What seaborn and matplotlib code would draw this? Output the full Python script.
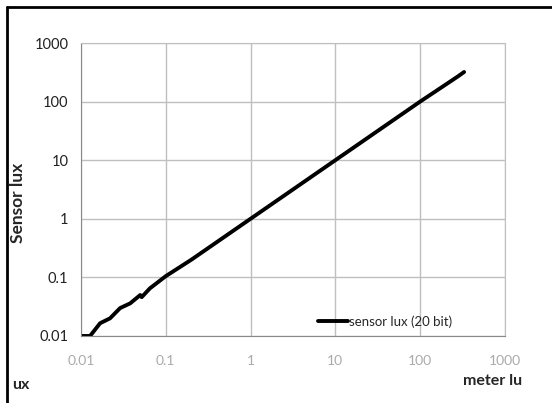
import matplotlib
matplotlib.use('Agg')
import matplotlib.pyplot as plt
import seaborn as sns
import pandas as pd
from matplotlib.lines import Line2D

# meter lux (reference) vs sensor lux readings
meter_lux = [0.01, 0.0128, 0.0168, 0.022, 0.029, 0.038, 0.05, 0.052, 0.065,
             0.1, 0.2, 0.5, 1, 2, 5, 10, 20, 50, 100, 200, 280, 330]
sensor_lux = [0.01, 0.01, 0.0165, 0.02, 0.03, 0.036, 0.05, 0.046, 0.065,
              0.105, 0.2, 0.5, 1, 2, 5, 10, 20, 50, 100, 195, 270, 320]
ticks = [0.01, 0.1, 1, 10, 100, 1000]
tick_labels = ['0.01', '0.1', '1', '10', '100', '1000']

df = pd.DataFrame({'meter lux': meter_lux, 'sensor lux': sensor_lux})

sns.set_style('white')
plt.rcParams['font.family'] = ['Lato', 'DejaVu Sans']

fig = plt.figure(figsize=(5.52, 4.03), dpi=100)
ax = fig.add_axes([0.1467, 0.1663, 0.768, 0.727])

sns.lineplot(data=df, x='meter lux', y='sensor lux', color='black', lw=2.8,
             ax=ax, sort=False, legend=False)

ax.set_xscale('log')
ax.set_yscale('log')
ax.set_xlim(0.01, 1000)
ax.set_ylim(0.01, 1000)
ax.set_xticks(ticks)
ax.set_xticklabels(tick_labels, color='#aaaaaa', fontsize=10)
ax.set_yticks(ticks)
ax.set_yticklabels(tick_labels, fontsize=10.5, color='#222222')
ax.minorticks_off()
ax.grid(True, color='#bfbfbf', lw=1)
for s in ax.spines.values():
    s.set_color('#bfbfbf')
ax.spines['left'].set_color('#888888')
ax.spines['bottom'].set_color('#888888')
ax.tick_params(axis='y', length=5, color='#888888', pad=4)
ax.tick_params(axis='x', length=0, pad=14)

ax.set_xlabel('')
ax.set_ylabel('')
fig.text(18 / 552, 1 - 203 / 403, 'Sensor lux', fontsize=12.5,
         fontweight='bold', rotation=90, va='center', ha='center')

ax.legend(handles=[Line2D([], [], color='black', lw=2.8)],
          labels=['sensor lux (20 bit)'], frameon=False, fontsize=9.5,
          loc='center left', bbox_to_anchor=(0.53, 0.05),
          handlelength=2.3, handletextpad=0.05)

# partial axis title fragments as they appear
fig.text(12 / 552, 1 - 385 / 403, 'ux', fontsize=11.5, fontweight='bold',
         va='center', ha='left')
fig.text(522 / 552, 1 - 381 / 403, 'meter lu', fontsize=11.5,
         fontweight='bold', va='center', ha='right')

# outer frame (only left and top visible)
fig.add_artist(Line2D([7 / 552, 7 / 552], [0, 1 - 7 / 403], color='black',
                      lw=2, transform=fig.transFigure))
fig.add_artist(Line2D([7 / 552, 1], [1 - 7 / 403, 1 - 7 / 403], color='black',
                      lw=2, transform=fig.transFigure))

fig.savefig('out.png', dpi=100)
